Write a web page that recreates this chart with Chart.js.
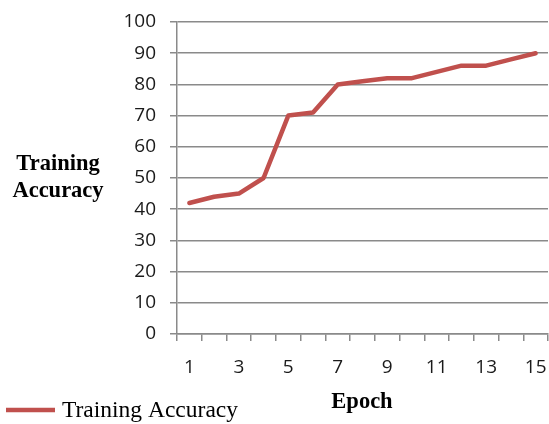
<!DOCTYPE html>
<html>
<head>
<meta charset="utf-8">
<script src="https://cdn.jsdelivr.net/npm/chart.js@4/dist/chart.umd.min.js"></script>
<style>
  html, body { margin: 0; padding: 0; background: #ffffff; overflow: hidden; }
  canvas { display: block; }
</style>
</head>
<body>
<canvas id="chart" width="549" height="424"></canvas>
<script>
// Epoch numbers along the x axis
const epochs = ['1','2','3','4','5','6','7','8','9','10','11','12','13','14','15'];
// Accuracy (%) reached at each epoch
const trainingAccuracy = [42, 44, 45, 50, 70, 71, 80, 81, 82, 82, 84, 86, 86, 88, 90];
const seriesName = 'Training Accuracy';
const yTitleLines = ['Training', 'Accuracy'];
const xTitle = 'Epoch';

const lineColor = '#C0504D';
const gridColor = '#8a8a8a';
const tickFont = { family: 'Open Sans', size: 19 };

// Titles and legend drawn as plain text on the canvas
const annotations = {
  id: 'annotations',
  afterDraw(chart) {
    const ctx = chart.ctx;
    ctx.save();
    ctx.fillStyle = '#000';
    ctx.textBaseline = 'alphabetic';
    ctx.textAlign = 'center';
    ctx.font = 'bold 22.5px "Liberation Serif"';
    ctx.fillText(yTitleLines[0], 58, 170);
    ctx.fillText(yTitleLines[1], 58, 197);
    ctx.fillText(xTitle, 362, 408);
    // legend
    const ds = chart.data.datasets[0];
    ctx.strokeStyle = ds.borderColor;
    ctx.lineWidth = 4.5;
    ctx.beginPath();
    ctx.moveTo(6, 410);
    ctx.lineTo(55, 410);
    ctx.stroke();
    ctx.textAlign = 'left';
    ctx.font = '23.5px "Liberation Serif"';
    ctx.fillText(ds.label, 62, 417);
    ctx.restore();
  }
};

new Chart(document.getElementById('chart'), {
  type: 'line',
  data: {
    labels: epochs,
    datasets: [{
      label: seriesName,
      data: trainingAccuracy,
      borderColor: lineColor,
      backgroundColor: lineColor,
      borderWidth: 4.5,
      pointRadius: 0,
      tension: 0,
      borderJoinStyle: 'round',
      borderCapStyle: 'round'
    }]
  },
  options: {
    responsive: false,
    animation: false,
    devicePixelRatio: 1,
    layout: { padding: { top: 22, right: 1, left: 0, bottom: 0 } },
    plugins: { legend: { display: false }, tooltip: { enabled: false } },
    scales: {
      x: {
        type: 'category',
        offset: true,
        grid: {
          offset: true,
          drawOnChartArea: false,
          drawTicks: true,
          tickLength: 7,
          color: gridColor,
          lineWidth: 1.5
        },
        border: { color: gridColor, width: 1.5 },
        ticks: {
          autoSkip: false,
          maxRotation: 0,
          padding: 15,
          color: '#1a1a1a',
          font: tickFont,
          callback(value, index) {
            return index % 2 === 0 ? epochs[index] : '';
          }
        },
        afterFit(scale) {
          scale.height = 90;
          scale.paddingLeft = 0;
          scale.paddingRight = 0;
        }
      },
      y: {
        min: 0,
        max: 100,
        grid: {
          color: gridColor,
          lineWidth: 1.5,
          drawTicks: true,
          tickLength: 7
        },
        border: { color: gridColor, width: 1.5 },
        ticks: {
          stepSize: 10,
          padding: 14,
          color: '#1a1a1a',
          font: tickFont
        },
        afterFit(scale) {
          scale.width = 177;
          scale.paddingTop = 0;
          scale.paddingBottom = 0;
        }
      }
    }
  },
  plugins: [annotations]
});
</script>
</body>
</html>
